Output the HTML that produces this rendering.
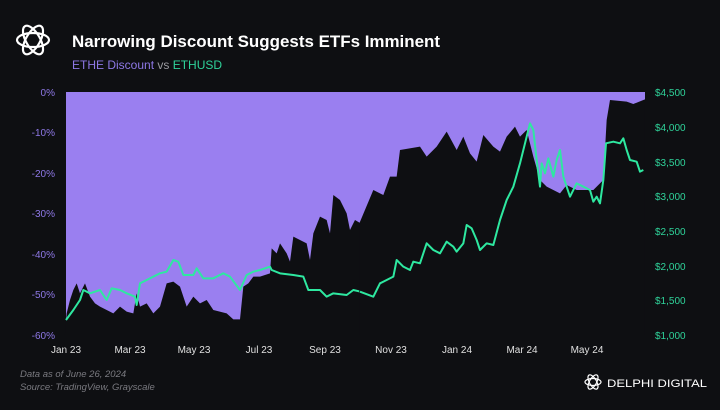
<!DOCTYPE html>
<html><head><meta charset="utf-8"><style>
body{margin:0;background:#0e0f12;width:720px;height:405px;overflow:hidden;font-family:"Liberation Sans",sans-serif}
</style></head><body>
<svg width="720" height="405" viewBox="0 0 720 405" xmlns="http://www.w3.org/2000/svg" font-family="Liberation Sans, sans-serif">
<rect width="720" height="405" fill="#0e0f12"/>
<g fill="none" stroke="#fff" stroke-width="2.2">
<ellipse cx="33" cy="40" rx="16" ry="7" transform="rotate(0 33 40)"/>
<ellipse cx="33" cy="40" rx="16" ry="7" transform="rotate(60 33 40)"/>
<ellipse cx="33" cy="40" rx="16" ry="7" transform="rotate(120 33 40)"/>
</g>
<text x="72" y="47" fill="#fff" font-size="17" font-weight="bold" textLength="368" lengthAdjust="spacingAndGlyphs">Narrowing Discount Suggests ETFs Imminent</text>
<text x="72" y="69" font-size="12"><tspan fill="#8e78e6">ETHE Discount</tspan><tspan fill="#9a9aa0"> vs </tspan><tspan fill="#2fd39a">ETHUSD</tspan></text>
<rect x="66" y="92" width="579" height="243" fill="#9a7ff0"/>
<g transform="translate(40,80) scale(0.33333)">
<polygon fill="#0e0f12" points="75,765 75,760 80,700 90,660 100,630 110,610 120,640 135,610 150,650 165,670 180,680 200,690 220,700 240,680 260,695 280,700 290,640 300,680 320,670 340,700 360,680 380,610 400,605 420,620 440,680 460,650 480,670 500,660 520,690 560,700 580,718 600,718 610,620 625,610 640,590 660,590 690,580 695,505 710,520 720,490 740,520 750,545 760,470 780,480 800,490 810,540 820,460 840,410 860,420 870,460 880,345 900,360 920,400 930,450 945,420 962,430 962,765"/>
<polyline fill="none" stroke="#2ee8a0" stroke-width="6" stroke-linejoin="round" points="78,720 100,690 120,660 130,630 150,640 180,630 200,660 215,625 240,630 260,640 285,650 290,675 300,610 320,600 340,590 360,580 380,575 400,540 415,545 430,585 460,585 470,565 490,595 520,595 550,580 570,590 600,630 620,585 640,575 660,570 690,560 695,570 720,580 760,585 790,590 805,630 840,630 860,650 880,640 920,645 940,630 962,635"/>
</g>
<g transform="translate(360,80) scale(0.33333)">
<polygon fill="#0e0f12" points="-2,765 -2,430 40,330 70,345 90,290 110,290 120,210 180,200 200,230 230,200 260,155 290,210 310,170 330,220 350,245 370,165 400,200 420,215 440,170 465,140 480,170 500,150 520,230 540,300 560,320 600,340 620,315 650,330 700,330 730,300 740,120 750,60 800,65 820,72 850,60 855,58 855,765"/>
<polyline fill="none" stroke="#2ee8a0" stroke-width="6" stroke-linejoin="round" points="0,635 40,650 60,610 80,600 100,590 110,540 130,560 150,570 160,545 180,550 200,490 220,510 240,520 260,485 280,500 290,515 310,490 320,435 335,445 350,480 360,510 380,490 400,495 420,420 440,360 460,320 480,250 495,190 510,130 520,150 530,240 540,320 545,250 555,280 565,235 580,290 590,240 600,210 610,290 630,350 650,310 670,320 690,330 700,365 710,350 720,370 730,300 738,190 760,185 780,190 790,175 800,210 810,240 830,245 840,275 850,270"/>
</g>
<g fill="#8e78e6" font-size="10" text-anchor="end">
<text x="55" y="96">0%</text><text x="55" y="136">-10%</text><text x="55" y="177">-20%</text><text x="55" y="217">-30%</text><text x="55" y="258">-40%</text><text x="55" y="298">-50%</text><text x="55" y="339">-60%</text>
</g>
<g fill="#2fd39a" font-size="10">
<text x="655" y="96">$4,500</text><text x="655" y="131">$4,000</text><text x="655" y="166">$3,500</text><text x="655" y="200">$3,000</text><text x="655" y="235">$2,500</text><text x="655" y="270">$2,000</text><text x="655" y="304">$1,500</text><text x="655" y="339">$1,000</text>
</g>
<g fill="#e0e0e0" font-size="10" text-anchor="middle">
<text x="66" y="353">Jan 23</text><text x="130" y="353">Mar 23</text><text x="194" y="353">May 23</text><text x="259" y="353">Jul 23</text><text x="325" y="353">Sep 23</text><text x="391" y="353">Nov 23</text><text x="457" y="353">Jan 24</text><text x="522" y="353">Mar 24</text><text x="587" y="353">May 24</text>
</g>
<g fill="#7a7a80" font-size="9.5" font-style="italic">
<text x="20" y="377">Data as of June 26, 2024</text><text x="20" y="390">Source: TradingView, Grayscale</text>
</g>
<g fill="none" stroke="#fff" stroke-width="1.2">
<ellipse cx="593" cy="382" rx="8" ry="3.5"/><ellipse cx="593" cy="382" rx="8" ry="3.5" transform="rotate(60 593 382)"/><ellipse cx="593" cy="382" rx="8" ry="3.5" transform="rotate(120 593 382)"/>
</g>
<text x="607" y="387" fill="#fff" font-size="11" textLength="100" lengthAdjust="spacingAndGlyphs">DELPHI DIGITAL</text>
</svg>
</body></html>
